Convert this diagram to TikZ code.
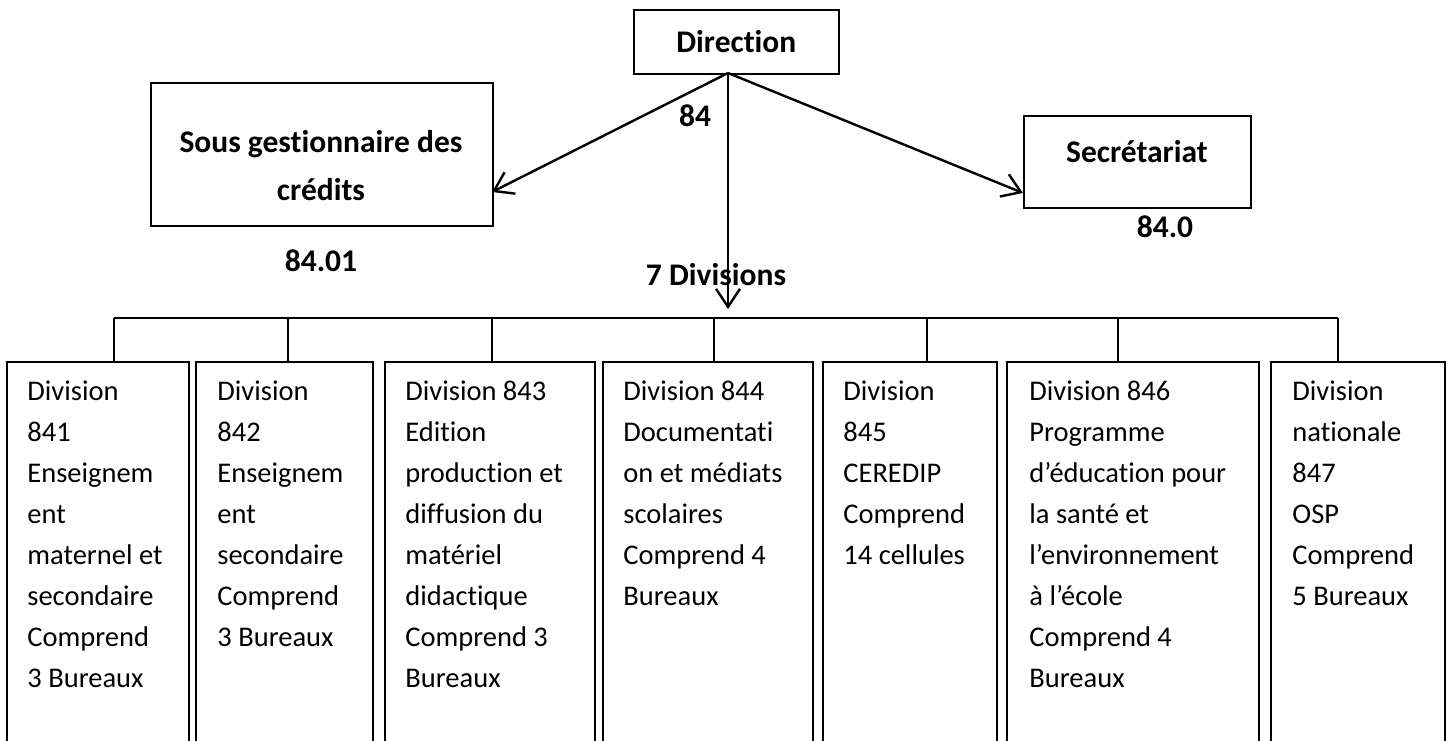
\documentclass[tikz,border=0pt]{standalone}
\usepackage{fontspec}
\setmainfont{Carlito}[Ligatures={NoCommon,NoRare,NoContextual}]
\usetikzlibrary{arrows.meta}
\begin{document}
\begin{tikzpicture}[x=0.5pt,y=-0.5pt,
  box/.style={draw, line width=0.85pt, rectangle, inner sep=0pt, anchor=north west},
  conn/.style={line width=1.2pt},
  arr/.style={conn, -{Straight Barb[length=9pt,width=12pt,line width=1.2pt]}},
  divtxt/.style={anchor=base west, align=left, inner sep=0pt, font=\fontsize{14.25pt}{20.5pt}\selectfont},
  bfont/.style={font=\fontsize{15.75pt}{24pt}\selectfont\bfseries},
  lbl/.style={bfont, anchor=base, inner sep=0pt}]
\useasboundingbox (0,0) rectangle (1451,740);
\clip (0,0) rectangle (1451,740);
% top boxes
\node[box, bfont, minimum width=102.5pt, minimum height=32pt] (dir) at (633,9) {Direction};
\node[box, minimum width=171pt, minimum height=71.5pt] (sg) at (150,82) {};
\node[box, minimum width=113.5pt, minimum height=46pt] (sec) at (1023,115) {};
\node[lbl] (sgt1) at (321,152) {Sous gestionnaire des};
\node[lbl] (sgt2) at (321,200) {crédits};
\node[lbl] (sect) at (1137,162) {Secrétariat};
\node[lbl] (l84) at (695,126) {84};
\node[lbl] (l8401) at (321,271) {84.01};
\node[lbl] (l840) at (1165,237) {84.0};
\node[lbl] (l7) at (716,285) {7 Divisions};
% connectors from direction
\coordinate (o) at (728,73);
\coordinate (sgin) at (492,192);
\coordinate (scin) at (1023,193);
\coordinate (dv) at (728,309);
\draw[arr] (o) -- (sgin);
\draw[arr] (o) -- (scin);
\draw[arr] (o) -- (dv);
% division boxes
\node[box, minimum width=91pt, minimum height=204.5pt] (d1) at (6,361) {};
\node[box, minimum width=88.5pt, minimum height=204.5pt] (d2) at (195,361) {};
\node[box, minimum width=105pt, minimum height=204.5pt] (d3) at (384,361) {};
\node[box, minimum width=105pt, minimum height=204.5pt] (d4) at (602,361) {};
\node[box, minimum width=87pt, minimum height=204.5pt] (d5) at (822,361) {};
\node[box, minimum width=126pt, minimum height=204.5pt] (d6) at (1006,361) {};
\node[box, minimum width=87pt, minimum height=204.5pt] (d7) at (1270,361) {};
% bus
\coordinate (b1) at (114,318);
\coordinate (b2) at (288,318);
\coordinate (b3) at (492,318);
\coordinate (b4) at (714,318);
\coordinate (b5) at (927,318);
\coordinate (b6) at (1118,318);
\coordinate (b7) at (1338,318);
\draw[conn] (b1) -- (b7);
\draw[conn] (b1) -- (b1 |- d1.north);
\draw[conn] (b2) -- (b2 |- d2.north);
\draw[conn] (b3) -- (b3 |- d3.north);
\draw[conn] (b4) -- (b4 |- d4.north);
\draw[conn] (b5) -- (b5 |- d5.north);
\draw[conn] (b6) -- (b6 |- d6.north);
\draw[conn] (b7) -- (b7 |- d7.north);
% division texts (base anchor = baseline of last line)
\node[divtxt] (t1) at (27,687) {Division\\841\\Enseignem\\ent\\maternel et\\secondaire\\Comprend\\3 Bureaux};
\node[divtxt] (t2) at (217,646) {Division\\842\\Enseignem\\ent\\secondaire\\Comprend\\3 Bureaux};
\node[divtxt] (t3) at (405,687) {Division 843\\Edition\\production et\\diffusion du\\matériel\\didactique\\Comprend 3\\Bureaux};
\node[divtxt] (t4) at (623,605) {Division 844\\Documentati\\on et médiats\\scolaires\\Comprend 4\\Bureaux};
\node[divtxt] (t5) at (843,564) {Division\\845\\CEREDIP\\Comprend\\14 cellules};
\node[divtxt] (t6) at (1029,687) {Division 846\\Programme\\d’éducation pour\\la santé et\\l’environnement\\à l’école\\Comprend 4\\Bureaux};
\node[divtxt] (t7) at (1292,605) {Division\\nationale\\847\\OSP\\Comprend\\5 Bureaux};
\end{tikzpicture}
\end{document}
